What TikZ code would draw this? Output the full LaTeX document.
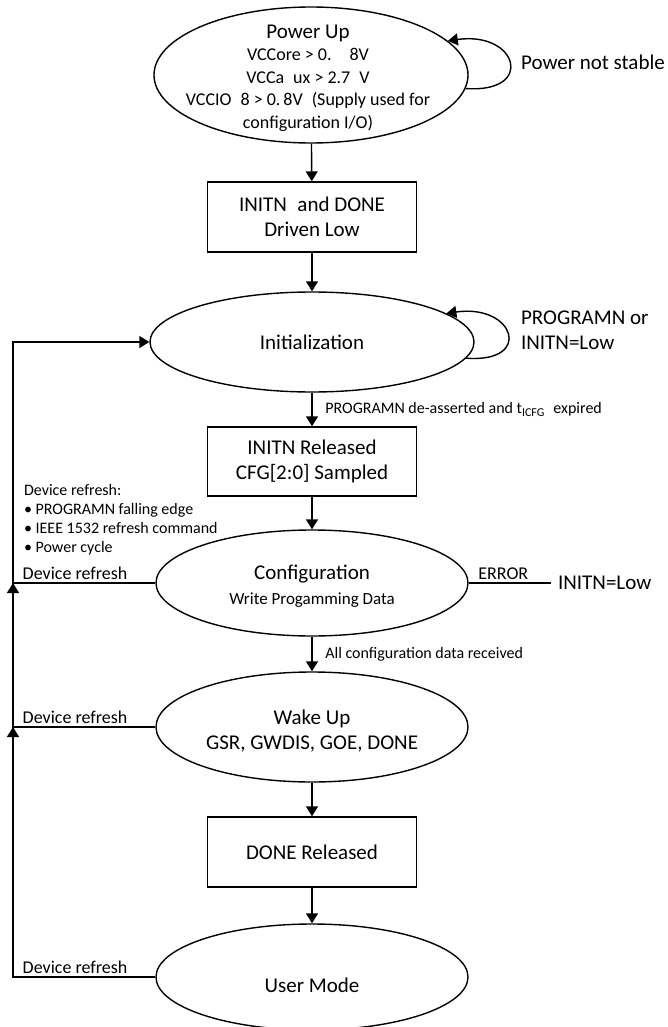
\documentclass[tikz,border=0pt]{standalone}
\usepackage{fontspec}
\setmainfont{Carlito}
\usetikzlibrary{positioning}
\usetikzlibrary{calc}
\usetikzlibrary{arrows.meta}
\usetikzlibrary{shapes.geometric}

\tikzset{
    state/.style={draw, ellipse, line width=0.7pt, inner sep=0pt},
    stepbox/.style={draw, rectangle, line width=0.7pt, minimum width=104.5pt, minimum height=35pt,
        align=center, font=\fontsize{10.5}{12.5}\selectfont},
    flow/.style={line width=0.7pt, -{Triangle[length=5pt,width=6pt]}},
    big/.style={font=\fontsize{10.5}{12.5}\selectfont},
    lbl/.style={font=\fontsize{8}{9.5}\selectfont},
    refr/.style={font=\fontsize{9}{10}\selectfont, inner sep=1.5pt},
}

\begin{document}
\begin{tikzpicture}[x=0.5pt, y=-0.5pt]
    \useasboundingbox (0,0) rectangle (668,1027);

    % states and steps
    \node[state, minimum width=157pt, minimum height=68pt] (pu) at (311,75) {};
    \node[stepbox] (drv) at (312,217) {INITN\enspace and DONE\\Driven Low};
    \node[state, minimum width=162pt, minimum height=50pt] (init) at (312,342) {};
    \node[stepbox, minimum height=34.5pt] (rel) at (312,461.5) {INITN Released\\CFG[2:0] Sampled};
    \node[state, minimum width=156pt, minimum height=53pt] (cf) at (312,583) {};
    \node[state, minimum width=156pt, minimum height=55pt] (wu) at (312,727) {};
    \node[stepbox] (doneRel) at (312,852) {DONE Released};
    \node[state, minimum width=156pt, minimum height=53pt] (um) at (312,977) {};

    % texts inside the ellipses
    \node[align=center, font=\fontsize{9}{11.25}\selectfont] (puTxt) at (308,78)
        {{\fontsize{10.5}{11.25}\selectfont Power Up}\\VCCore > 0.\quad 8V\\VCCa\enspace ux > 2.7\enspace V\\
         VCCIO\enspace 8 > 0.\,8V\enspace(Supply used for\\configuration I/O)};
    \node[big] (initTxt) at (init) {Initialization};
    \node[align=center, big] (cfTxt) at ([yshift=-1.5pt]cf) {Configuration\\{\fontsize{8.5}{10}\selectfont Write Progamming Data}};
    \node[align=center, big] (wuTxt) at ([yshift=-2pt]wu) {Wake Up\\GSR, GWDIS, GOE, DONE};
    \node[big] (umTxt) at ([yshift=-4pt]um) {User Mode};

    % main flow
    \draw[flow] (pu) -- (drv);
    \draw[flow] (drv) -- (init);
    \draw[flow] (init) -- node[lbl, right, xshift=3pt] {PROGRAMN de-asserted and t\textsubscript{ICFG}\enspace expired} (rel);
    \draw[flow] (rel) -- (cf);
    \draw[flow] (cf) -- node[lbl, right, xshift=3pt] {All configuration data received} (wu);
    \draw[flow] (wu) -- (doneRel);
    \draw[flow] (doneRel) -- (um);

    % self loops
    \draw[flow] (pu.-5) .. controls +(70,5) and +(70,-10) .. (pu.14);
    \node[big, anchor=west] (unstable) at (514,62) {Power not stable};
    \draw[flow] (init.-6) .. controls +(68,5) and +(68,-10) .. (init.12);
    \node[big, anchor=west, align=left] (progLow) at (514,330) {PROGRAMN or\\INITN=Low};

    % error exit
    \node[big, anchor=west] (errLow) at (551,583) {INITN=Low};
    \draw[line width=0.7pt] (cf.east) -- node[refr, above, pos=0.42] {ERROR} (errLow.west);

    % device refresh paths
    \coordinate (bus) at (13,0);
    \node[lbl, anchor=north west, align=left] (refreshList) at (17,477)
        {Device refresh:\\• PROGRAMN falling edge\\• IEEE 1532 refresh command\\• Power cycle};
    \draw[flow] (um.west) -- node[refr, pos=1, above right, xshift=3pt] {Device refresh} (bus |- um.west) -- (bus |- wu.west);
    \draw[flow] (wu.west) -- node[refr, pos=1, above right, xshift=3pt] {Device refresh} (bus |- wu.west) -- (bus |- cf.west);
    \draw[flow] (cf.west) -- node[refr, pos=1, above right, xshift=3pt] {Device refresh} (bus |- cf.west) |- (init.west);
\end{tikzpicture}
\end{document}
